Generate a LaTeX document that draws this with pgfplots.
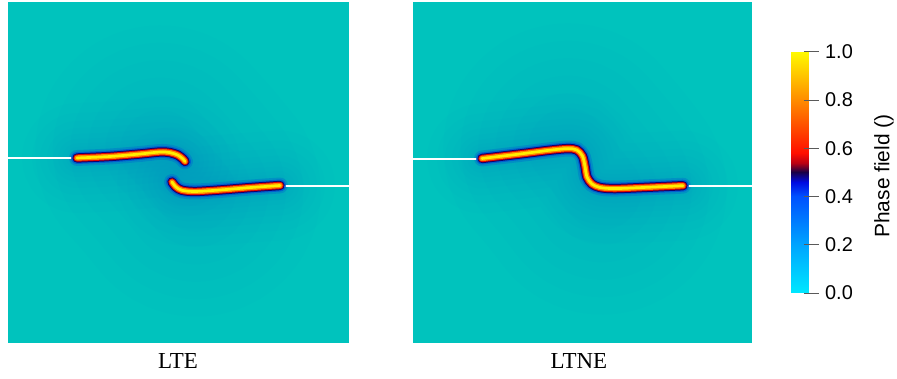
\documentclass[border=0pt]{standalone}
\usepackage{fontspec}
\setmainfont{Liberation Serif}
\newfontfamily\cbfont{Liberation Sans}
\usepackage{pgfplots}
\usepackage{pgfplotstable}
\pgfplotsset{compat=1.18}

\definecolor{bgteal}{RGB}{0,195,189}
\definecolor{haloc}{RGB}{0,125,205}
\definecolor{nearblue}{RGB}{0,85,210}
\definecolor{navy}{RGB}{15,0,110}
\definecolor{cred}{RGB}{225,0,0}
\definecolor{corange}{RGB}{255,135,0}
\definecolor{cyellow}{RGB}{255,238,0}
\definecolor{tickgray}{RGB}{90,90,90}

% crack centre lines, in image pixel coordinates (y grows downwards)
\pgfplotstableread{
x y
77 158
110 156.5
140 154
160 152
170 152.6
178 155.2
183 159
185 161.5
}\lteUpper
\pgfplotstableread{
x y
172 182
176 187
182 190.3
195 191.5
220 190
250 187.6
280 185.5
}\lteLower
\pgfplotstableread{
x y
482 158.5
520 154
550 150.2
568 148.6
577 150
582.5 156
585 166
587 177
592 184
600 187.5
615 188.6
650 187.2
683 185.7
}\ltneCrack
% central parts of the damaged zones
\pgfplotstableread{
x y
160 150
178 170
196 192
}\lteCore
\pgfplotstableread{
x y
568 148
585 168
602 190
}\ltneCore
% initial notches
\pgfplotstableread{
x y
8 158.5
77 158.5
}\lteNotchL
\pgfplotstableread{
x y
280 186
349 186
}\lteNotchR
\pgfplotstableread{
x y
413 159
482 159
}\ltneNotchL
\pgfplotstableread{
x y
683 186
752 186
}\ltneNotchR

\newcommand\halo[1]{%
  \pgfplotsinvokeforeach{110,90,74,60,48,38,29,22}{%
    \addplot[haloc, line width=##1, opacity=0.026, smooth, line cap=round] table {#1};
  }
  \addplot[nearblue, line width=16, opacity=0.3, smooth, line cap=round] table {#1};
}
\newcommand\core[1]{%
  \pgfplotsinvokeforeach{250,215,180,145,110,80}{%
    \addplot[haloc, line width=##1, opacity=0.022, smooth, line cap=round] table {#1};
  }
}
\newcommand\crack[1]{%
  \addplot[nearblue, line width=12, opacity=0.8, smooth, line cap=round] table {#1};
  \addplot[navy, line width=9.4, smooth, line cap=round] table {#1};
  \addplot[cred, line width=7.4, smooth, line cap=round] table {#1};
  \addplot[corange, line width=5.4, smooth, line cap=round] table {#1};
  \addplot[cyellow, line width=2.7, smooth, line cap=round] table {#1};
}

\begin{document}
\begin{tikzpicture}
\begin{axis}[
  scale only axis, width=897bp, height=379bp,
  xmin=0, xmax=897, ymin=0, ymax=379, y dir=reverse,
  hide axis, clip=false,
  point meta min=0, point meta max=1,
  colormap={phase}{rgb255(0cm)=(0,232,255); rgb255(20cm)=(0,165,255);
    rgb255(40cm)=(0,80,255); rgb255(46cm)=(0,10,225); rgb255(50cm)=(25,0,70);
    rgb255(54cm)=(185,0,20); rgb255(58cm)=(255,15,0); rgb255(80cm)=(255,140,0);
    rgb255(100cm)=(255,250,0)},
]
\path (axis cs:0,0) rectangle (axis cs:897,379);

% panels
\addplot[fill=bgteal, draw=none] coordinates {(8,2) (349,2) (349,343) (8,343)} -- cycle;
\addplot[fill=bgteal, draw=none] coordinates {(413,2) (752,2) (752,343) (413,343)} -- cycle;

% LTE
\core{\lteCore}
\halo{\lteUpper}
\halo{\lteLower}
\addplot[white, line width=2] table {\lteNotchL};
\addplot[white, line width=2] table {\lteNotchR};
\crack{\lteUpper}
\crack{\lteLower}

% LTNE
\core{\ltneCore}
\halo{\ltneCrack}
\addplot[white, line width=2] table {\ltneNotchL};
\addplot[white, line width=2] table {\ltneNotchR};
\crack{\ltneCrack}

\node[font=\fontsize{23}{25}\selectfont] at (axis cs:178,361) {LTE};
\node[font=\fontsize{23}{25}\selectfont] at (axis cs:579,361) {LTNE};

% colour bar
\addplot[patch, patch type=rectangle, shader=interp, point meta=explicit]
coordinates {
 (791,293) [0] (809,293) [0] (809,244.7) [0.2] (791,244.7) [0.2]
 (791,244.7) [0.2] (809,244.7) [0.2] (809,196.5) [0.4] (791,196.5) [0.4]
 (791,196.5) [0.4] (809,196.5) [0.4] (809,182) [0.46] (791,182) [0.46]
 (791,182) [0.46] (809,182) [0.46] (809,172.4) [0.5] (791,172.4) [0.5]
 (791,172.4) [0.5] (809,172.4) [0.5] (809,162.7) [0.54] (791,162.7) [0.54]
 (791,162.7) [0.54] (809,162.7) [0.54] (809,153) [0.58] (791,153) [0.58]
 (791,153) [0.58] (809,153) [0.58] (809,100) [0.8] (791,100) [0.8]
 (791,100) [0.8] (809,100) [0.8] (809,51.7) [1] (791,51.7) [1]
};
\foreach \v/\yy in {0.0/293,0.2/244.7,0.4/196.5,0.6/148.2,0.8/100,1.0/51.7}{
  \edef\tmp{\noexpand\draw[tickgray, line width=0.9] (axis cs:804,\yy) -- (axis cs:819,\yy);
    \noexpand\node[anchor=west, inner sep=0pt, font=\noexpand\cbfont\noexpand\fontsize{20}{22}\noexpand\selectfont] at (axis cs:825,\yy) {\v};}
  \tmp
}
\node[rotate=90, font=\cbfont\fontsize{21}{23}\selectfont] at (axis cs:884,176) {Phase field ()};
\end{axis}
\end{tikzpicture}
\end{document}
